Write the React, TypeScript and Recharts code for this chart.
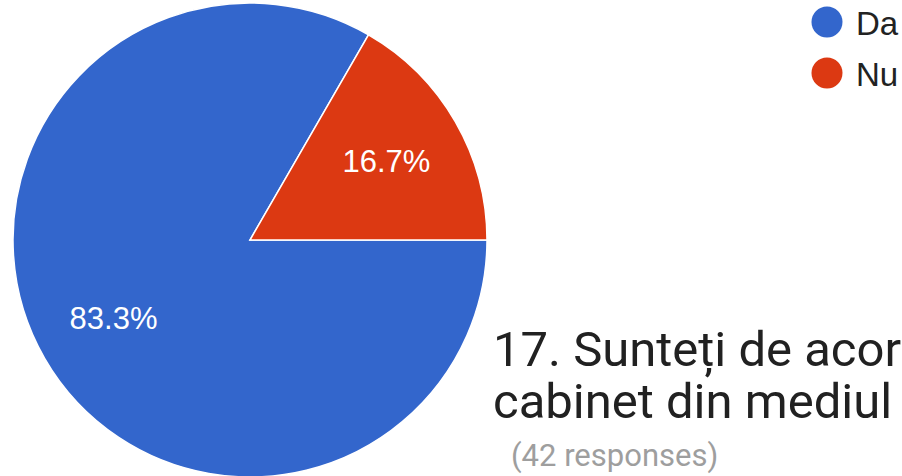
import { PieChart, Pie, Cell, Legend } from "recharts";

const LABELS = ["Da", "Nu"];
const COUNTS = [35, 7];
const COLORS = ["#3366cc", "#dc3912"];

const TITLE_LINES = ["17. Sunteți de acor", "cabinet din mediul"];
const SUBTITLE = "(42 responses)";

const data = LABELS.map((name, i) => ({ name, value: COUNTS[i] }));

const RAD = Math.PI / 180;

const renderLabel = (props: any) => {
  const { cx, cy, midAngle, outerRadius, percent } = props;
  const r = outerRadius * 0.665;
  const x = cx + r * Math.cos(-midAngle * RAD);
  const y = cy + r * Math.sin(-midAngle * RAD);
  return (
    <text
      x={x}
      y={y}
      fill="#fff"
      textAnchor="middle"
      dominantBaseline="central"
      fontFamily="'Liberation Sans', Arial, sans-serif"
      fontSize={31}
    >
      {(percent * 100).toFixed(1)}%
    </text>
  );
};

const renderLegend = () => (
  <svg width={92} height={100} style={{ display: "block" }}>
    {LABELS.map((name, i) => (
      <g key={name}>
        <circle cx={17} cy={17 + i * 51} r={15.5} fill={COLORS[i]} />
        <text
          x={46}
          y={30 + i * 51}
          fill="#222"
          fontFamily="'Liberation Sans', Arial, sans-serif"
          fontSize={33}
        >
          {name}
        </text>
      </g>
    ))}
  </svg>
);

export default function App() {
  return (
    <div style={{ position: "absolute", top: 0, left: 0, width: 902, height: 476, overflow: "hidden", background: "#fff" }}>
      <PieChart width={902} height={476} margin={{ top: 0, right: 0, bottom: 0, left: 0 }}>
        <Pie
          data={data}
          dataKey="value"
          nameKey="name"
          cx={250}
          cy={240}
          outerRadius={237}
          startAngle={60}
          endAngle={420}
          stroke="#fff"
          strokeWidth={1.5}
          label={renderLabel}
          labelLine={false}
          isAnimationActive={false}
        >
          {data.map((_, i) => (
            <Cell key={i} fill={COLORS[i]} />
          ))}
        </Pie>
        <Legend content={renderLegend} wrapperStyle={{ position: "absolute", top: 5, left: 810, width: 92 }} />
      </PieChart>

      {/* question title, clipped by the right edge like the screenshot */}
      <svg width={902} height={476} style={{ position: "absolute", top: 0, left: 0, pointerEvents: "none" }}>
        <text fill="#212121" fontFamily="Roboto, sans-serif" fontSize={49}>
          {TITLE_LINES.map((line, i) => (
            <tspan key={i} x={493} y={366 + i * 52}>
              {line}
            </tspan>
          ))}
        </text>
        <text x={511} y={466} fill="#9e9e9e" fontFamily="Roboto, sans-serif" fontSize={31}>
          {SUBTITLE}
        </text>
      </svg>
    </div>
  );
}
